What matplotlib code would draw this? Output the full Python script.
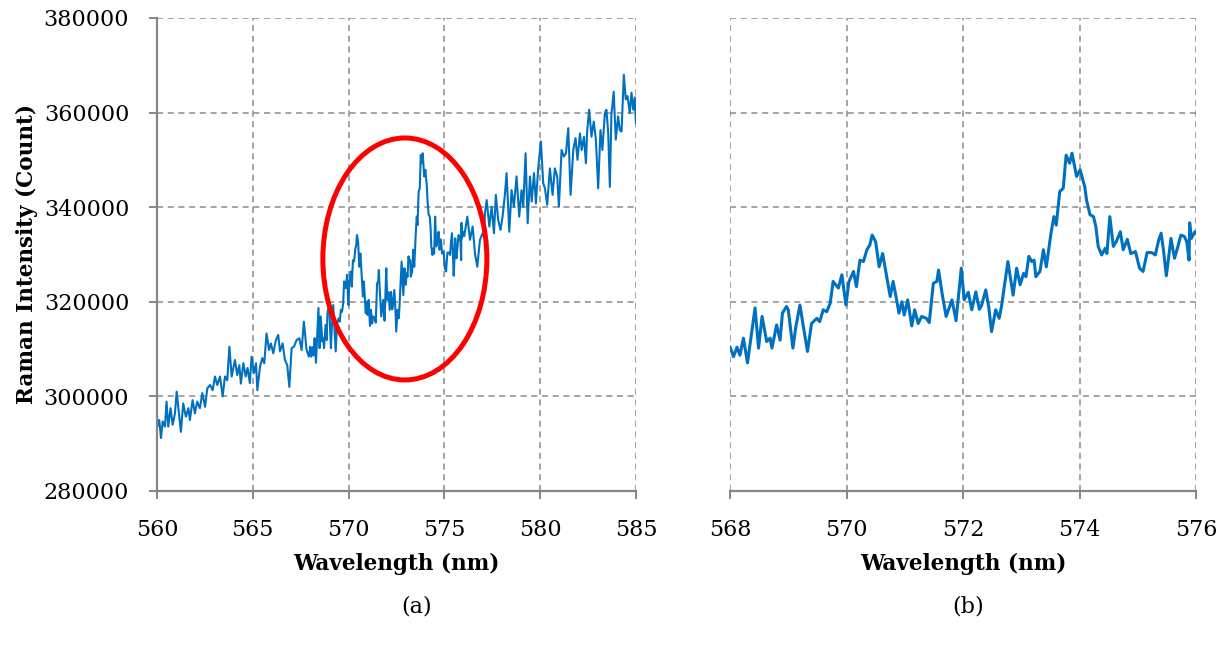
import matplotlib.pyplot as plt
from matplotlib.patches import Ellipse

# Raman spectrum (wavelength in nm, intensity in counts)
wavelength_nm = [
    560.00, 560.02, 560.12, 560.21, 560.30, 560.42, 560.50, 560.59, 560.71, 560.82,
    560.94, 561.03, 561.17, 561.25, 561.37, 561.51, 561.64, 561.72, 561.86, 561.98,
    562.10, 562.24, 562.37, 562.51, 562.63, 562.77, 562.91, 563.03, 563.15, 563.29,
    563.43, 563.55, 563.67, 563.78, 563.90, 564.07, 564.19, 564.30, 564.38, 564.51,
    564.63, 564.73, 564.85, 564.94, 565.06, 565.17, 565.24, 565.38, 565.50, 565.60,
    565.72, 565.85, 565.95, 566.07, 566.21, 566.33, 566.42, 566.56, 566.68, 566.80,
    566.91, 567.03, 567.15, 567.29, 567.43, 567.55, 567.67, 567.81, 567.93,
    568.00, 568.06, 568.12, 568.17, 568.23, 568.30, 568.43, 568.49, 568.55, 568.63,
    568.69, 568.72, 568.80, 568.86, 568.90, 568.97, 569.00, 569.08, 569.13, 569.20,
    569.26, 569.33, 569.40, 569.49, 569.54, 569.60, 569.66, 569.72, 569.77, 569.86,
    569.92, 569.99, 570.04, 570.12, 570.17, 570.23, 570.29, 570.35, 570.40, 570.44,
    570.50, 570.56, 570.62, 570.69, 570.75, 570.80, 570.86, 570.90, 570.95, 570.99,
    571.05, 571.12, 571.17, 571.23, 571.29, 571.37, 571.42, 571.49, 571.55, 571.58,
    571.64, 571.71, 571.81, 571.88, 571.97, 572.02, 572.09, 572.15, 572.22, 572.28,
    572.32, 572.39, 572.44, 572.49, 572.56, 572.62, 572.66, 572.77, 572.86, 572.92,
    572.98, 573.04, 573.08, 573.13, 573.18, 573.22, 573.25, 573.32, 573.38, 573.43,
    573.51, 573.56, 573.60, 573.66, 573.72, 573.77, 573.83, 573.87, 573.95, 574.01,
    574.09, 574.12, 574.18, 574.24, 574.28, 574.32, 574.38, 574.44, 574.47, 574.52,
    574.58, 574.63, 574.70, 574.75, 574.82, 574.88, 574.96, 575.03, 575.09, 575.16,
    575.24, 575.30, 575.36, 575.40, 575.44, 575.49, 575.57, 575.63, 575.68, 575.74,
    575.80, 575.84, 575.88, 575.89, 575.92, 575.98, 576.04,
    576.20, 576.34, 576.48, 576.60, 576.72, 576.86, 577.00, 577.07, 577.12, 577.21,
    577.35, 577.47, 577.59, 577.69, 577.81, 577.93, 578.04, 578.16, 578.25, 578.39,
    578.51, 578.63, 578.77, 578.91, 579.03, 579.12, 579.24, 579.35, 579.47, 579.56,
    579.68, 579.78, 579.90, 580.04, 580.16, 580.25, 580.37, 580.51, 580.65, 580.77,
    580.89, 580.98, 581.12, 581.24, 581.35, 581.47, 581.59, 581.73, 581.85, 581.95,
    582.08, 582.17, 582.29, 582.39, 582.46, 582.56, 582.68, 582.80, 582.91, 583.03,
    583.15, 583.25, 583.38, 583.46, 583.55, 583.64, 583.72, 583.84, 583.95, 584.07,
    584.16, 584.25, 584.37, 584.47, 584.56, 584.68, 584.77, 584.86, 584.94, 585.00,
]
raman_count = [
    296400, 293600, 295000, 291200, 294700, 293600, 298900, 293600, 297500, 294000,
    296400, 301000, 295700, 292500, 298500, 295700, 297500, 295000, 299200, 296400,
    298900, 297500, 300700, 297800, 301700, 302400, 301300, 304200, 302400, 304200,
    300000, 304200, 303400, 310500, 304200, 307700, 304500, 306600, 302700, 307000,
    304200, 306000, 302800, 308400, 304900, 307000, 301300, 306300, 308100, 307000,
    313300, 309800, 311200, 309100, 311900, 313000, 309500, 311200, 307700, 306600,
    302000, 310200, 310500, 311900, 312300, 309800, 315800, 309800, 308400,
    310500, 308400, 310400, 308700, 312300, 307100, 318700, 310200, 316900, 311600,
    312300, 310200, 315100, 311900, 317600, 319000, 318300, 310200, 314700, 319300,
    314700, 309500, 315400, 316500, 315800, 318300, 317900, 319700, 324300, 322900,
    325700, 319300, 324200, 326400, 323200, 328800, 328500, 331000, 332000, 334100,
    332700, 327400, 330200, 325300, 321100, 324300, 320400, 317600, 320000, 317200,
    320400, 314900, 318300, 315400, 316900, 316500, 315600, 323900, 324300, 326700,
    321800, 316900, 320400, 316000, 327100, 320400, 322000, 318300, 322100, 318400,
    319300, 322500, 319000, 313700, 318300, 316500, 319000, 328500, 321400, 327100,
    323600, 326000, 325300, 329600, 328500, 328800, 325300, 326400, 331000, 327400,
    334500, 338000, 336200, 343300, 344000, 351000, 349300, 351400, 346500, 347900,
    344300, 341500, 338400, 338000, 335900, 331700, 329900, 331300, 330200, 338000,
    331700, 332700, 334800, 331000, 333200, 330200, 330600, 327100, 326400, 330400,
    330400, 329900, 333100, 334500, 331000, 325500, 333400, 329200, 331300, 334100,
    333800, 332700, 328800, 336700, 333400, 334800, 333900,
    338000, 333100, 335900, 330200, 327400, 333100, 334500, 333800, 338700, 341500,
    335900, 340100, 334500, 342600, 337300, 335200, 338000, 342600, 347200, 334800,
    343600, 340100, 346500, 338000, 343600, 340100, 351400, 336600, 346500, 341200,
    347200, 340800, 348200, 353900, 345100, 344000, 340500, 348200, 342600, 348200,
    346500, 340100, 352100, 350700, 351400, 356700, 342600, 352100, 354600, 350000,
    355600, 352100, 354900, 349300, 356300, 360600, 354900, 358100, 354300, 344000,
    356300, 352100, 359900, 360600, 356000, 344300, 359500, 364400, 354300, 359200,
    356300, 356000, 368000, 362800, 363500, 359900, 364200, 360600, 363200, 357800,
]

full_xticks = [560, 565, 570, 575, 580, 585]
zoom_xticks = [568, 570, 572, 574, 576]
yticks = [280000, 300000, 320000, 340000, 360000, 380000]

LINE = '#0070C0'
AXIS = '#868686'
GRID = '#8c8c8c'

plt.rcParams['font.family'] = ['DejaVu Serif']

fig = plt.figure(figsize=(12.3, 6.49), dpi=100)
ax_a = fig.add_axes([0.1276, 0.2435, 0.3894, 0.7288])
ax_b = fig.add_axes([0.5935, 0.2435, 0.3789, 0.7288])


def style_axes(ax, xticks, show_y):
    ax.set_ylim(280000, 380000)
    ax.set_xlim(xticks[0], xticks[-1])
    ax.set_xticks(xticks)
    ax.set_yticks(yticks)
    ax.grid(True, color=GRID, linestyle=(0, (4, 3)), linewidth=1.1)
    ax.set_axisbelow(True)
    for side in ['top', 'right']:
        ax.spines[side].set_visible(False)
    ax.spines['bottom'].set_color(AXIS)
    ax.spines['bottom'].set_linewidth(1.6)
    ax.spines['left'].set_color(AXIS)
    ax.spines['left'].set_linewidth(1.6)
    ax.spines['left'].set_visible(show_y)
    ax.tick_params(axis='x', direction='out', length=6, width=1.4, color=AXIS,
                   labelsize=16, pad=14)
    ax.tick_params(axis='y', direction='out', length=6, width=1.4, color=AXIS,
                   labelsize=16, pad=14, left=show_y, labelleft=show_y)
    ax.set_xlabel('Wavelength (nm)', fontsize=15.5, fontweight='bold', labelpad=9)


# (a) full spectrum with the band of interest circled
ax_a.plot(wavelength_nm, raman_count, color=LINE, linewidth=1.5)
style_axes(ax_a, full_xticks, True)
ax_a.set_ylabel('Raman Intensity (Count)', fontsize=15.5, fontweight='bold', labelpad=4)
ax_a.add_patch(Ellipse((572.94, 329050), 8.56, 51160, fill=False,
                       edgecolor='#ff0000', linewidth=3.6, zorder=4))

# (b) close-up of 568-576 nm
ax_b.plot(wavelength_nm, raman_count, color=LINE, linewidth=2.2)
style_axes(ax_b, zoom_xticks, False)

fig.text(417 / 1230, 1 - 606 / 649, '(a)', ha='center', va='center', fontsize=16)
fig.text(968 / 1230, 1 - 606 / 649, '(b)', ha='center', va='center', fontsize=16)

fig.savefig('out.png', dpi=100)
